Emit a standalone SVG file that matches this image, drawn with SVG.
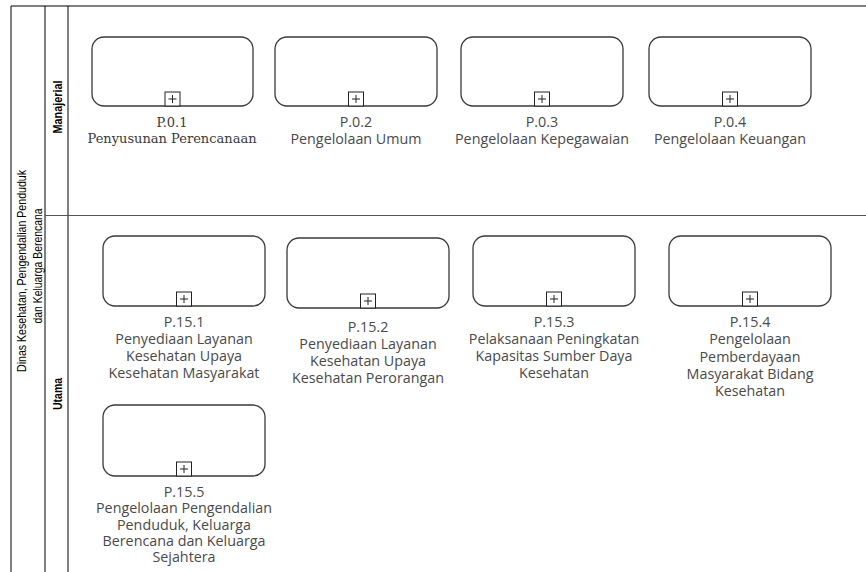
<svg xmlns="http://www.w3.org/2000/svg" width="866" height="572" viewBox="0 0 866 572">
<style>
.lane{stroke:#000;stroke-width:1;fill:none}
.div{stroke:#555;stroke-width:1.2;fill:none}
.box{fill:#fff;stroke:#3a3a3a;stroke-width:1.3}
.pm{fill:#fff;stroke:#222;stroke-width:1}
.pl{stroke:#222;stroke-width:1}
.lbl{font-family:"Open Sans",sans-serif;font-size:14.3px;fill:#4a4a4a;text-anchor:middle}
.ser{font-family:"DejaVu Serif",serif;font-size:13px;fill:#3a3a3a;text-anchor:middle}
.title{font-family:"Liberation Sans",Arial,sans-serif;font-size:13.5px;fill:#000;text-anchor:middle}
.lname{font-family:"Liberation Sans",Arial,sans-serif;font-size:13px;font-weight:bold;fill:#000;text-anchor:middle}
</style>
<defs>
<g id="plus">
<rect class="pm" x="-7.5" y="-14" width="15" height="14"/>
<line class="pl" x1="-4" y1="-7" x2="4" y2="-7"/>
<line class="pl" x1="0" y1="-11" x2="0" y2="-3"/>
</g>
</defs>
<rect width="866" height="572" fill="#fff"/>
<g id="pool">
<line class="lane" x1="11" y1="6" x2="866" y2="6"/>
<line class="lane" x1="11" y1="6" x2="11" y2="572"/>
<line class="lane" x1="45" y1="6" x2="45" y2="572"/>
<line class="lane" x1="68" y1="6" x2="68" y2="572"/>
<line class="div" x1="45" y1="215.5" x2="866" y2="215.5"/>
<text class="title" transform="translate(25.5,271) rotate(-90)" textLength="202" lengthAdjust="spacingAndGlyphs">Dinas Kesehatan, Pengendalian Penduduk</text>
<text class="title" transform="translate(41.5,266) rotate(-90)" textLength="115" lengthAdjust="spacingAndGlyphs">dan Keluarga Berencana</text>
<text class="lname" transform="translate(61.5,107) rotate(-90)" textLength="53" lengthAdjust="spacingAndGlyphs">Manajerial</text>
<text class="lname" transform="translate(61.5,394) rotate(-90)" textLength="32" lengthAdjust="spacingAndGlyphs">Utama</text>
</g>
<g id="connectors"></g>
<g id="P01">
<rect class="box" x="92" y="37" width="161" height="69" rx="12"/>
<use href="#plus" x="172.5" y="106"/>
<text class="ser" x="172" y="126.5">P.0.1<tspan x="172" dy="16.5">Penyusunan Perencanaan</tspan></text>
</g>
<g id="P02">
<rect class="box" x="275" y="37" width="162" height="69" rx="12"/>
<use href="#plus" x="356" y="106"/>
<text class="lbl" x="356" y="127">P.0.2<tspan x="356" dy="17">Pengelolaan Umum</tspan></text>
</g>
<g id="P03">
<rect class="box" x="461" y="37" width="162" height="69" rx="12"/>
<use href="#plus" x="542" y="106"/>
<text class="lbl" x="542" y="127">P.0.3<tspan x="542" dy="17">Pengelolaan Kepegawaian</tspan></text>
</g>
<g id="P04">
<rect class="box" x="649" y="37" width="162" height="69" rx="12"/>
<use href="#plus" x="730" y="106"/>
<text class="lbl" x="730" y="127">P.0.4<tspan x="730" dy="17">Pengelolaan Keuangan</tspan></text>
</g>
<g id="P151">
<rect class="box" x="103" y="236" width="162" height="70" rx="12"/>
<use href="#plus" x="184" y="306"/>
<text class="lbl" x="184" y="327">P.15.1<tspan x="184" dy="17">Penyediaan Layanan</tspan><tspan x="184" dy="17">Kesehatan Upaya</tspan><tspan x="184" dy="17">Kesehatan Masyarakat</tspan></text>
</g>
<g id="P152">
<rect class="box" x="287" y="238" width="162" height="70" rx="12"/>
<use href="#plus" x="368" y="308"/>
<text class="lbl" x="368" y="332">P.15.2<tspan x="368" dy="17">Penyediaan Layanan</tspan><tspan x="368" dy="17">Kesehatan Upaya</tspan><tspan x="368" dy="17">Kesehatan Perorangan</tspan></text>
</g>
<g id="P153">
<rect class="box" x="473" y="236" width="162" height="70" rx="12"/>
<use href="#plus" x="554" y="306"/>
<text class="lbl" x="554" y="327">P.15.3<tspan x="554" dy="17">Pelaksanaan Peningkatan</tspan><tspan x="554" dy="17">Kapasitas Sumber Daya</tspan><tspan x="554" dy="17">Kesehatan</tspan></text>
</g>
<g id="P154">
<rect class="box" x="669" y="236" width="162" height="70" rx="12"/>
<use href="#plus" x="750" y="306"/>
<text class="lbl" x="750" y="327">P.15.4<tspan x="750" dy="17">Pengelolaan</tspan><tspan x="750" dy="17.5">Pemberdayaan</tspan><tspan x="750" dy="17">Masyarakat Bidang</tspan><tspan x="750" dy="17">Kesehatan</tspan></text>
</g>
<g id="P155">
<rect class="box" x="103" y="405" width="162" height="71" rx="12"/>
<use href="#plus" x="184" y="476"/>
<text class="lbl" x="184" y="497">P.15.5<tspan x="184" dy="16.3">Pengelolaan Pengendalian</tspan><tspan x="184" dy="16.3">Penduduk, Keluarga</tspan><tspan x="184" dy="16.3">Berencana dan Keluarga</tspan><tspan x="184" dy="16.3">Sejahtera</tspan></text>
</g>
</svg>
